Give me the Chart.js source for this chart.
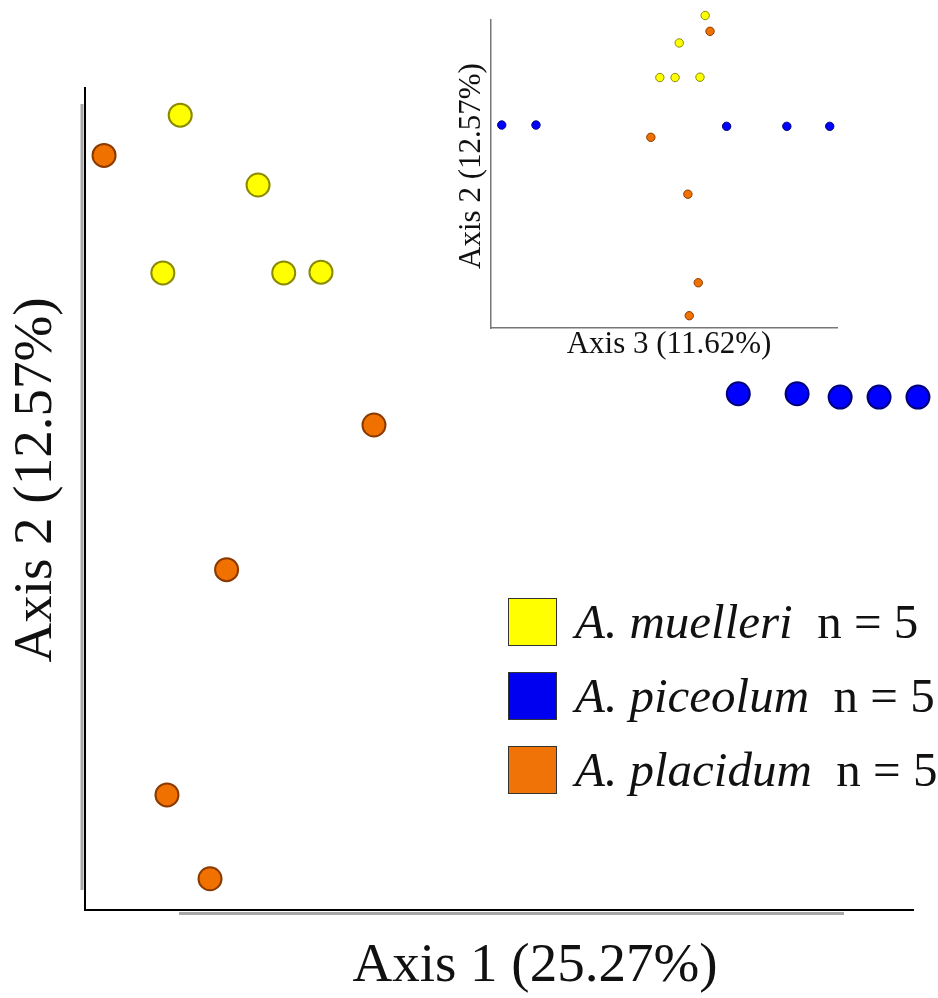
<!DOCTYPE html>
<html>
<head>
<meta charset="utf-8">
<script src="https://cdn.jsdelivr.net/npm/chart.js@4.4.0/dist/chart.umd.min.js"></script>
<style>
    body { margin: 0; background: #fff; }
    #pagina { position: relative; width: 938px; height: 998px; overflow: hidden; }
    #mainChart { position: absolute; left: 0; top: 0; }
    #insetChart { position: absolute; left: 440px; top: 0; }
    #legenda { position: absolute; left: 508px; top: 597px; width: 440px; font-family: "Liberation Serif", "Times New Roman", serif; }
    .linha { display: flex; align-items: center; height: 50px; margin-bottom: 24px; }
    .quadrado { width: 47px; height: 46px; border: 1.5px solid #333; margin-right: 18px; flex: none; }
    .texto { font-size: 49px; line-height: 50px; color: #111; white-space: pre; }
    .texto i { font-style: italic; }
</style>
</head>
<body>
<div id="pagina">
    <canvas id="mainChart" width="938" height="998"></canvas>
    <canvas id="insetChart" width="420" height="370"></canvas>
    <div id="legenda"></div>
</div>
<script>
// Espécies e cores
const especies = ['A. muelleri', 'A. piceolum', 'A. placidum'];
const tamanhos = [5, 5, 5];
const cores = ['#FFFF00', '#0000FF', '#F07000'];
const bordas = ['#8A8A00', '#00007A', '#8A3A00'];
const coresLegenda = ['#FFFF00', '#0000F0', '#F07308'];

// Coordenadas da PCoA (Eixo 1, Eixo 2, Eixo 3) por espécie
const eixo1Muelleri = [11.5, 20.9, 9.4, 24.0, 28.5];
const eixo2Muelleri = [96.7, 88.2, 77.5, 77.5, 77.6];
const eixo3Muelleri = [61.9, 54.4, 48.8, 53.2, 60.4];

const eixo1Piceolum = [78.9, 86.0, 91.2, 95.9, 100.6];
const eixo2Piceolum = [62.8, 62.8, 62.4, 62.4, 62.4];
const eixo3Piceolum = [3.1, 13.0, 68.1, 85.5, 97.9];

const eixo1Placidum = [2.3, 34.9, 17.1, 9.9, 15.1];
const eixo2Placidum = [91.8, 59.0, 41.4, 14.0, 3.8];
const eixo3Placidum = [63.3, 46.2, 56.9, 59.9, 57.3];

// Títulos dos eixos
const tituloEixo1 = 'Axis 1 (25.27%)';
const tituloEixo2 = 'Axis 2 (12.57%)';
const tituloEixo3 = 'Axis 3 (11.62%)';

const fonteSerif = '"Liberation Serif", "Times New Roman", serif';

// Monta os pontos {x, y} a partir dos arrays
function montarPontos(xs, ys) {
    return xs.map((x, i) => ({ x: x, y: ys[i] }));
}

function montarDatasets(xsLista, ysLista, raio, borda) {
    return especies.map((nome, i) => ({
        label: nome,
        data: montarPontos(xsLista[i], ysLista[i]),
        backgroundColor: cores[i],
        borderColor: bordas[i],
        borderWidth: borda,
        pointRadius: raio,
        pointHoverRadius: raio,
        clip: false
    }));
}

// Plugin que desenha os títulos dos eixos e as linhas cinzas de sombra
const pluginTitulos = {
    id: 'titulos',
    afterDraw(chart, args, opts) {
        const ctx = chart.ctx;
        const area = chart.chartArea;
        ctx.save();
        if (opts.sombra) {
            ctx.strokeStyle = '#A8A8A8';
            ctx.lineWidth = 3;
            ctx.beginPath();
            ctx.moveTo(area.left - 3, area.top + 16);
            ctx.lineTo(area.left - 3, area.bottom - 20);
            ctx.moveTo(area.left + 94, area.bottom + 3.5);
            ctx.lineTo(area.right - 69, area.bottom + 3.5);
            ctx.stroke();
        }
        ctx.fillStyle = '#111';
        ctx.textAlign = 'center';
        ctx.textBaseline = 'middle';
        ctx.font = opts.tamanho + 'px ' + fonteSerif;
        ctx.fillText(opts.x.texto, opts.x.cx, opts.x.cy);
        ctx.translate(opts.y.cx, opts.y.cy);
        ctx.rotate(-Math.PI / 2);
        ctx.fillText(opts.y.texto, 0, 0);
        ctx.restore();
    }
};

function escalas(maxX, maxY, corBorda, larguraBorda) {
    return {
        x: {
            type: 'linear', min: 0, max: maxX,
            grid: { display: false, drawTicks: false },
            ticks: { display: false },
            border: { color: corBorda, width: larguraBorda },
            afterFit: (s) => { s.height = 0; }
        },
        y: {
            type: 'linear', min: 0, max: maxY,
            grid: { display: false, drawTicks: false },
            ticks: { display: false },
            border: { color: corBorda, width: larguraBorda },
            afterFit: (s) => { s.width = 0; }
        }
    };
}

// Gráfico principal: Eixo 1 x Eixo 2
function inicializarGraficos() {
    const ctxMain = document.getElementById('mainChart').getContext('2d');
    new Chart(ctxMain, {
        type: 'scatter',
        data: {
            datasets: montarDatasets(
                [eixo1Muelleri, eixo1Piceolum, eixo1Placidum],
                [eixo2Muelleri, eixo2Piceolum, eixo2Placidum], 11.5, 2)
        },
        options: {
            responsive: false,
            animation: false,
            layout: { padding: { left: 85, top: 88, right: 25, bottom: 88 } },
            scales: escalas(100, 100, '#000', 2),
            plugins: {
                legend: { display: false },
                tooltip: { enabled: false },
                titulos: {
                    sombra: true,
                    tamanho: 55,
                    x: { texto: tituloEixo1, cx: 535, cy: 967 },
                    y: { texto: tituloEixo2, cx: 37, cy: 480 }
                }
            }
        },
        plugins: [pluginTitulos]
    });

    // Gráfico menor: Eixo 3 x Eixo 2
    const ctxInset = document.getElementById('insetChart').getContext('2d');
    new Chart(ctxInset, {
        type: 'scatter',
        data: {
            datasets: montarDatasets(
                [eixo3Muelleri, eixo3Piceolum, eixo3Placidum],
                [eixo2Muelleri, eixo2Piceolum, eixo2Placidum], 4.2, 1)
        },
        options: {
            responsive: false,
            animation: false,
            layout: { padding: { left: 51, top: 20, right: 23, bottom: 42 } },
            scales: escalas(100, 95.3, '#777', 1.5),
            plugins: {
                legend: { display: false },
                tooltip: { enabled: false },
                titulos: {
                    sombra: false,
                    tamanho: 31,
                    x: { texto: tituloEixo3, cx: 229, cy: 345 },
                    y: { texto: tituloEixo2, cx: 32, cy: 166 }
                }
            }
        },
        plugins: [pluginTitulos]
    });

    // Legenda em HTML
    const legenda = document.getElementById('legenda');
    especies.forEach((nome, i) => {
        const linha = document.createElement('div');
        linha.className = 'linha';
        linha.innerHTML = '<div class="quadrado" style="background:' + coresLegenda[i] + '"></div>' +
            '<span class="texto"><i>' + nome + '</i>  n = ' + tamanhos[i] + '</span>';
        legenda.appendChild(linha);
    });
}

document.addEventListener('DOMContentLoaded', inicializarGraficos);
</script>
</body>
</html>
